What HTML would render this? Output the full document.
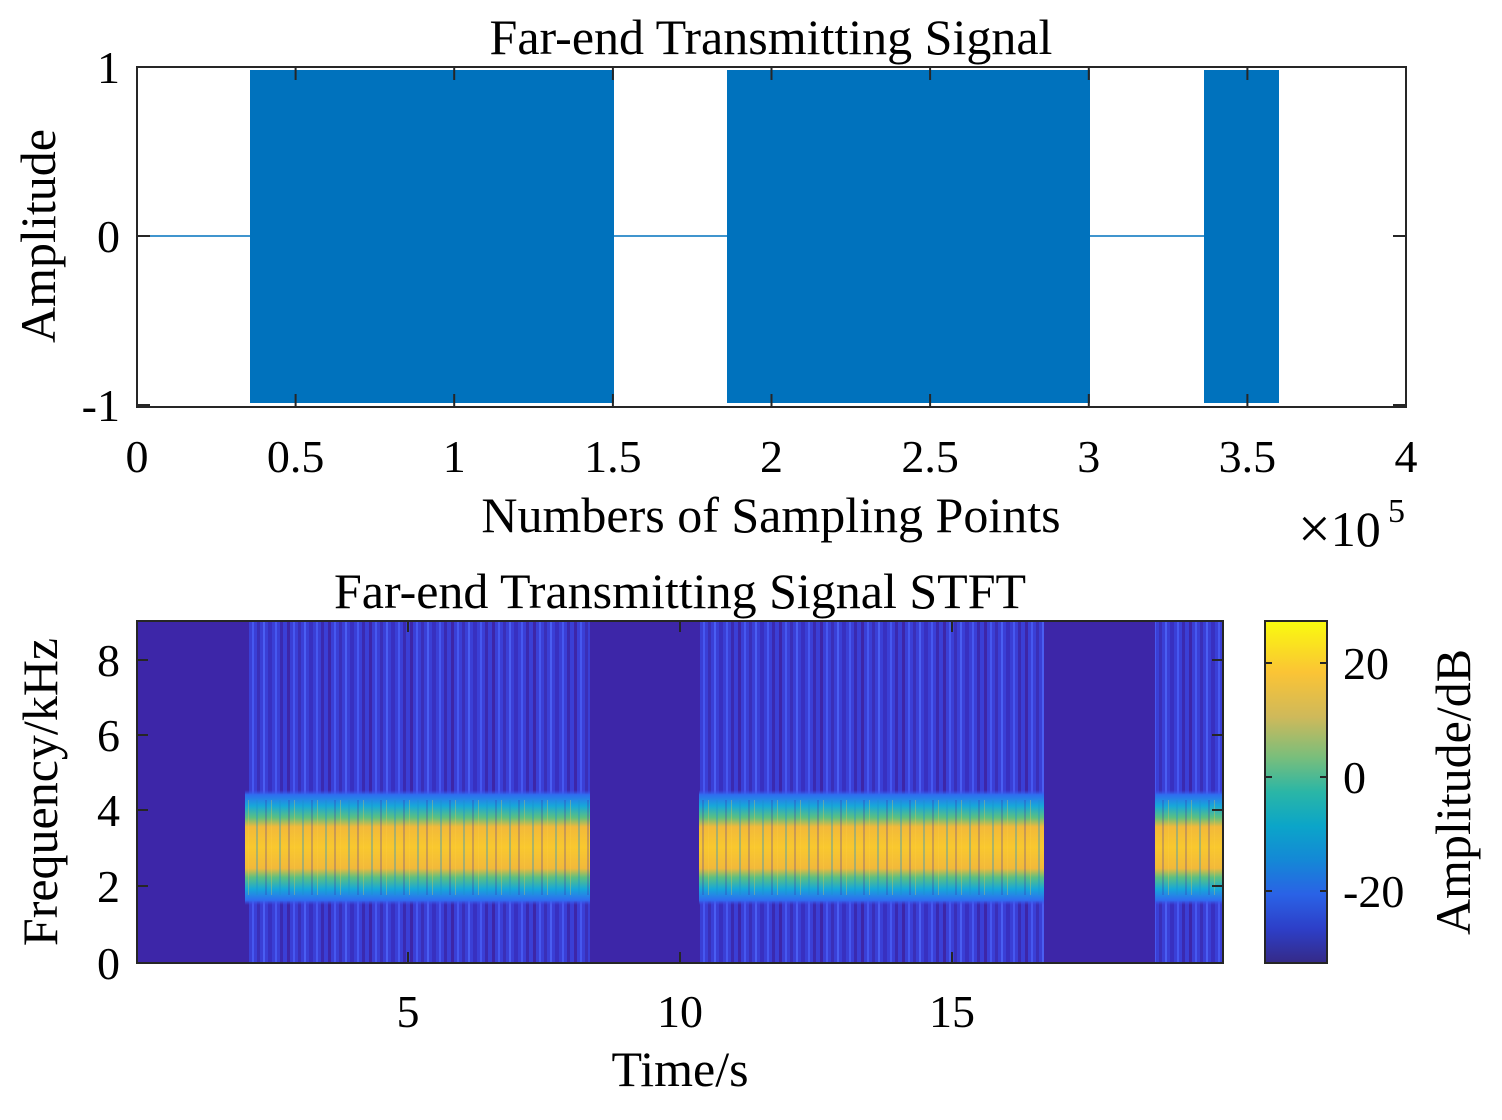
<!DOCTYPE html>
<html><head><meta charset="utf-8"><style>
body{margin:0;background:#fff}
svg text{font-family:"Liberation Serif",serif;fill:#000}
</style></head><body>
<svg width="1502" height="1115" viewBox="0 0 1502 1115" xmlns="http://www.w3.org/2000/svg">
<defs>
<linearGradient id="parula" x1="0" y1="1" x2="0" y2="0">
<stop offset="0" stop-color="#352a87"/><stop offset="0.1" stop-color="#2d3fc8"/><stop offset="0.2" stop-color="#2a62e6"/>
<stop offset="0.3" stop-color="#1488d6"/><stop offset="0.4" stop-color="#0ba5c9"/>
<stop offset="0.5" stop-color="#2ab6a6"/><stop offset="0.6" stop-color="#78be7c"/>
<stop offset="0.72" stop-color="#cfb95a"/><stop offset="0.85" stop-color="#fbc435"/>
<stop offset="1" stop-color="#f9fb0e"/></linearGradient>
<linearGradient id="band" x1="0" y1="0" x2="0" y2="1">
<stop offset="0" stop-color="#3c50e8" stop-opacity="0"/>
<stop offset="0.04" stop-color="#2f6cf0"/>
<stop offset="0.14" stop-color="#17a8d8"/>
<stop offset="0.24" stop-color="#5cc080"/>
<stop offset="0.32" stop-color="#f2b93a"/>
<stop offset="0.5" stop-color="#f9c82e"/>
<stop offset="0.68" stop-color="#f2b93a"/>
<stop offset="0.76" stop-color="#5cc080"/>
<stop offset="0.86" stop-color="#17a8d8"/>
<stop offset="0.96" stop-color="#2f6cf0"/>
<stop offset="1" stop-color="#3c50e8" stop-opacity="0"/>
</linearGradient>
<pattern id="streak" x="0" y="0" width="41" height="342" patternUnits="userSpaceOnUse">
<rect width="41" height="342" fill="#3a3fd6"/>
<rect x="0" width="3" height="342" fill="#3d26a8"/>
<rect x="6" width="2" height="342" fill="#4658f0"/>
<rect x="11" width="3" height="342" fill="#3a2fb8"/>
<rect x="17" width="2" height="342" fill="#4a5ef2"/>
<rect x="22" width="4" height="342" fill="#3830c0"/>
<rect x="29" width="2" height="342" fill="#4658f0"/>
<rect x="34" width="3" height="342" fill="#3a2ab0"/>
</pattern>
<pattern id="noise" x="0" y="0" width="23" height="342" patternUnits="userSpaceOnUse">
<rect x="3" y="0" width="2" height="342" fill="#1a8fd0" opacity="0.35"/>
<rect x="12" y="0" width="2" height="342" fill="#3d26a8" opacity="0.25"/>
<rect x="18" y="0" width="1" height="342" fill="#ffd040" opacity="0.3"/>
</pattern>
</defs>

<!-- Top plot -->
<text x="771" y="54" font-size="50" text-anchor="middle">Far-end Transmitting Signal</text>
<line x1="137" y1="236" x2="250" y2="236" stroke="#0072bd" stroke-width="1.5"/>
<line x1="614" y1="236" x2="727" y2="236" stroke="#0072bd" stroke-width="1.5"/>
<line x1="1090" y1="236" x2="1204" y2="236" stroke="#0072bd" stroke-width="1.5"/>
<rect x="250" y="70" width="364" height="333" fill="#0072bd"/>
<rect x="727" y="70" width="363" height="333" fill="#0072bd"/>
<rect x="1204" y="70" width="75" height="333" fill="#0072bd"/>
<rect x="137" y="67" width="1269" height="340" fill="none" stroke="#262626" stroke-width="2"/>
<g stroke="#262626" stroke-width="2">
<line x1="137" y1="67" x2="150" y2="67"/><line x1="137" y1="236" x2="150" y2="236"/><line x1="137" y1="405" x2="150" y2="405"/>
<line x1="1406" y1="67" x2="1393" y2="67"/><line x1="1406" y1="236" x2="1393" y2="236"/><line x1="1406" y1="405" x2="1393" y2="405"/>
<line x1="295.6" y1="407" x2="295.6" y2="394"/><line x1="454.2" y1="407" x2="454.2" y2="394"/><line x1="612.9" y1="407" x2="612.9" y2="394"/>
<line x1="771.5" y1="407" x2="771.5" y2="394"/><line x1="930.1" y1="407" x2="930.1" y2="394"/><line x1="1088.8" y1="407" x2="1088.8" y2="394"/><line x1="1247.4" y1="407" x2="1247.4" y2="394"/>
<line x1="295.6" y1="67" x2="295.6" y2="80"/><line x1="454.2" y1="67" x2="454.2" y2="80"/><line x1="612.9" y1="67" x2="612.9" y2="80"/>
<line x1="771.5" y1="67" x2="771.5" y2="80"/><line x1="930.1" y1="67" x2="930.1" y2="80"/><line x1="1088.8" y1="67" x2="1088.8" y2="80"/><line x1="1247.4" y1="67" x2="1247.4" y2="80"/>
</g>
<g font-size="46" text-anchor="end">
<text x="120" y="83">1</text><text x="120" y="252">0</text><text x="120" y="421">-1</text>
</g>
<g font-size="46" text-anchor="middle">
<text x="137" y="472">0</text><text x="295.6" y="472">0.5</text><text x="454.2" y="472">1</text><text x="612.9" y="472">1.5</text>
<text x="771.5" y="472">2</text><text x="930.1" y="472">2.5</text><text x="1088.8" y="472">3</text><text x="1247.4" y="472">3.5</text><text x="1406" y="472">4</text>
</g>
<text x="771" y="532" font-size="50" text-anchor="middle">Numbers of Sampling Points</text>
<text x="1298" y="546" font-size="50"><tspan font-size="58" dy="2">×</tspan><tspan dy="-2">10</tspan></text>
<text x="1388" y="522" font-size="34">5</text>
<text transform="translate(55,236) rotate(-90)" font-size="50" text-anchor="middle">Amplitude</text>

<!-- Bottom plot -->
<text x="680" y="608" font-size="50" text-anchor="middle">Far-end Transmitting Signal STFT</text>
<rect x="137" y="621" width="1086" height="342" fill="#3d26a8"/>
<rect x="247" y="621" width="343" height="342" fill="url(#streak)"/>
<rect x="699" y="621" width="345" height="342" fill="url(#streak)"/>
<rect x="1155" y="621" width="67" height="342" fill="url(#streak)"/>
<rect x="245" y="790" width="345" height="115" fill="url(#band)"/>
<rect x="699" y="790" width="345" height="115" fill="url(#band)"/>
<rect x="1155" y="790" width="67" height="115" fill="url(#band)"/>
<rect x="245" y="800" width="345" height="95" fill="url(#noise)"/>
<rect x="699" y="800" width="345" height="95" fill="url(#noise)"/>
<rect x="1155" y="800" width="67" height="95" fill="url(#noise)"/>
<rect x="137" y="621" width="1086" height="342" fill="none" stroke="#262626" stroke-width="2"/>
<g stroke="#262626" stroke-width="2">
<line x1="137" y1="886" x2="148" y2="886"/><line x1="137" y1="810" x2="148" y2="810"/><line x1="137" y1="735" x2="148" y2="735"/><line x1="137" y1="660" x2="148" y2="660"/>
<line x1="1223" y1="886" x2="1212" y2="886"/><line x1="1223" y1="810" x2="1212" y2="810"/><line x1="1223" y1="735" x2="1212" y2="735"/><line x1="1223" y1="660" x2="1212" y2="660"/>
<line x1="408" y1="963" x2="408" y2="952"/><line x1="680" y1="963" x2="680" y2="952"/><line x1="952" y1="963" x2="952" y2="952"/>
<line x1="408" y1="621" x2="408" y2="632"/><line x1="680" y1="621" x2="680" y2="632"/><line x1="952" y1="621" x2="952" y2="632"/>
</g>
<g font-size="46" text-anchor="end">
<text x="120" y="979">0</text><text x="120" y="902">2</text><text x="120" y="826">4</text><text x="120" y="751">6</text><text x="120" y="676">8</text>
</g>
<g font-size="46" text-anchor="middle">
<text x="408" y="1027">5</text><text x="680" y="1027">10</text><text x="952" y="1027">15</text>
</g>
<text x="680" y="1086" font-size="50" text-anchor="middle">Time/s</text>
<text transform="translate(57,792) rotate(-90)" font-size="50" text-anchor="middle">Frequency/kHz</text>

<!-- Colorbar -->
<rect x="1265" y="621" width="62" height="342" fill="url(#parula)" stroke="#262626" stroke-width="2"/>
<g stroke="#262626" stroke-width="2">
<line x1="1327" y1="663" x2="1320" y2="663"/><line x1="1327" y1="777" x2="1320" y2="777"/><line x1="1327" y1="891" x2="1320" y2="891"/>
<line x1="1265" y1="663" x2="1272" y2="663"/><line x1="1265" y1="777" x2="1272" y2="777"/><line x1="1265" y1="891" x2="1272" y2="891"/>
</g>
<g font-size="46">
<text x="1343" y="679">20</text><text x="1343" y="793">0</text><text x="1343" y="907">-20</text>
</g>
<text transform="translate(1470,792) rotate(-90)" font-size="50" text-anchor="middle">Amplitude/dB</text>
</svg>
</body></html>
